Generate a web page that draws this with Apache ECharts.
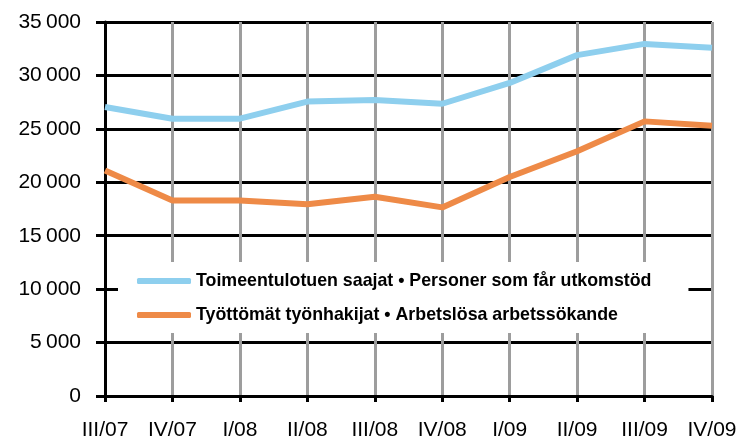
<!DOCTYPE html>
<html>
<head>
<meta charset="utf-8">
<script src="https://cdn.jsdelivr.net/npm/echarts@6/dist/echarts.min.js"></script>
<style>
  html, body { margin: 0; padding: 0; background: #fff; }
  #chart { width: 740px; height: 441px; }
</style>
</head>
<body>
<div id="chart"></div>
<script>
// kvartaalit
var quarters = ['III/07', 'IV/07', 'I/08', 'II/08', 'III/08', 'IV/08', 'I/09', 'II/09', 'III/09', 'IV/09']
// Toimeentulotuen saajat
var benefitRecipients = [27050, 25950, 25950, 27550, 27700, 27350, 29300, 31900, 32950, 32600]
// Työttömät työnhakijat
var unemployed = [21100, 18300, 18300, 17950, 18650, 17650, 20500, 22900, 25700, 25300]

var myChart = echarts.init(document.getElementById('chart'))
var font = 'Liberation Sans, Arial, sans-serif'
var option = {
  animation: false,
  grid: {
    left: 105,
    right: 28,
    top: 22,
    bottom: 44
  },
  legend: {
    orient: 'vertical',
    left: 118,
    top: 262,
    padding: [10, 37, 9, 19],
    itemGap: 16,
    itemWidth: 54,
    itemHeight: 6,
    icon: 'roundRect',
    backgroundColor: '#fff',
    textStyle: {
      fontFamily: font,
      fontWeight: 'bold',
      fontSize: 17.8,
      color: '#000'
    }
  },
  xAxis: {
    type: 'category',
    boundaryGap: false,
    data: quarters,
    axisLine: { lineStyle: { color: '#000', width: 3 } },
    axisTick: { alignWithLabel: true, length: 6, lineStyle: { color: '#000', width: 3 } },
    axisLabel: { color: '#000', fontSize: 21, fontFamily: font, margin: 24 },
    // pystysuorat harmaat viivat
    splitLine: { show: true, lineStyle: { color: '#9d9d9d', width: 3 } }
  },
  yAxis: {
    type: 'value',
    min: 0,
    max: 35000,
    interval: 5000,
    axisLine: { show: true, lineStyle: { color: '#000', width: 3 } },
    axisTick: { show: true, length: 9, lineStyle: { color: '#000', width: 3 } },
    axisLabel: {
      color: '#000',
      fontSize: 21,
      fontFamily: font,
      margin: 24,
      formatter: function (v) {
        return String(v).replace(/\B(?=(\d{3})+(?!\d))/g, '\u2009')
      }
    },
    splitLine: { lineStyle: { color: '#000', width: 3 } }
  },
  series: [
    {
      name: 'Toimeentulotuen saajat • Personer som får utkomstöd',
      type: 'line',
      symbol: 'none',
      data: benefitRecipients,
      itemStyle: { color: '#8ecfee' },
      lineStyle: { color: '#8ecfee', width: 6 }
    },
    {
      name: 'Työttömät työnhakijat • Arbetslösa arbetssökande',
      type: 'line',
      symbol: 'none',
      data: unemployed,
      itemStyle: { color: '#ee8a47' },
      lineStyle: { color: '#ee8a47', width: 6 }
    }
  ]
}
myChart.setOption(option)
window.addEventListener('resize', function () {
  myChart.resize()
})
</script>
</body>
</html>
